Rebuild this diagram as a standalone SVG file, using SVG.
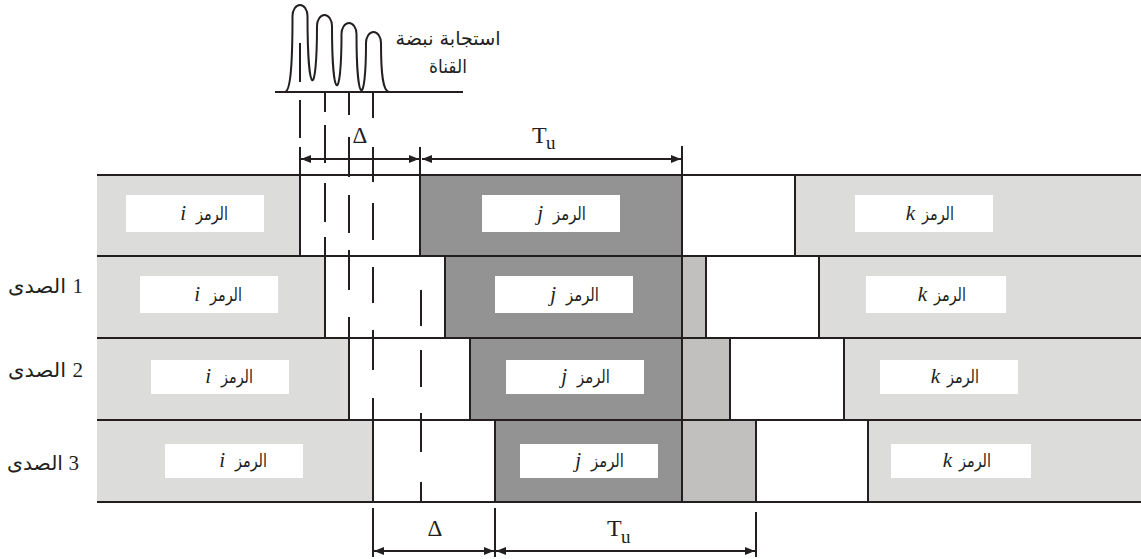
<svg xmlns="http://www.w3.org/2000/svg" width="1141" height="559" viewBox="0 0 1141 559">
<defs>
<style>
.lg{fill:#dcdcda}
.dg{fill:#939393}
.mg{fill:#c1c0be}
.wh{fill:#ffffff}
.ln{stroke:#231f20;stroke-width:2;fill:none}
.ar{font-family:"DejaVu Sans",sans-serif;font-size:18px;fill:#231f20}
.lt{font-family:"Liberation Serif",serif;font-style:italic;font-size:21px;fill:#231f20}
.sy{font-family:"Liberation Serif",serif;font-size:23px;fill:#231f20}
.num{font-family:"Liberation Serif",serif;font-size:21px;fill:#231f20}
.rl{font-family:"DejaVu Sans",sans-serif;font-size:20px;fill:#231f20}
</style>
<marker id="ah" viewBox="0 0 10 8" refX="10" refY="4" markerWidth="10" markerHeight="8" markerUnits="userSpaceOnUse" orient="auto-start-reverse">
<path d="M0,0 L10,4 L0,8 z" fill="#231f20"/>
</marker>
</defs>
<rect width="1141" height="559" fill="#ffffff"/>

<g id="row0">
<rect class="lg" x="97" y="175" width="203" height="81"/>
<rect class="wh" x="300" y="175" width="120" height="81"/>
<rect class="dg" x="420" y="175" width="262" height="81"/>
<rect class="wh" x="682" y="175" width="113" height="81"/>
<rect class="lg" x="795" y="175" width="346" height="81"/>
<rect class="wh" x="126" y="195" width="138" height="37"/>
<rect class="wh" x="482" y="195" width="138" height="37"/>
<rect class="wh" x="855" y="195" width="138" height="37"/>
<text class="lt" x="186" y="220" text-anchor="end">i</text><text class="ar" x="196" y="220" textLength="32" lengthAdjust="spacingAndGlyphs">الرمز</text>
<text class="lt" x="543" y="220" text-anchor="end">j</text><text class="ar" x="553" y="220" textLength="33" lengthAdjust="spacingAndGlyphs">الرمز</text>
<text class="lt" x="915" y="220" text-anchor="end">k</text><text class="ar" x="922" y="220" textLength="32" lengthAdjust="spacingAndGlyphs">الرمز</text>
</g>

<g id="row1">
<rect class="lg" x="97" y="256" width="228" height="82"/>
<rect class="wh" x="325" y="256" width="120" height="82"/>
<rect class="dg" x="445" y="256" width="237" height="82"/>
<rect class="mg" x="682" y="256" width="24" height="82"/>
<rect class="wh" x="706" y="256" width="113" height="82"/>
<rect class="lg" x="819" y="256" width="322" height="82"/>
<rect class="wh" x="140" y="276" width="138" height="37"/>
<rect class="wh" x="495" y="276" width="138" height="37"/>
<rect class="wh" x="866" y="276" width="140" height="37"/>
<text class="lt" x="200" y="301" text-anchor="end">i</text><text class="ar" x="210" y="301" textLength="32" lengthAdjust="spacingAndGlyphs">الرمز</text>
<text class="lt" x="556" y="301" text-anchor="end">j</text><text class="ar" x="566" y="301" textLength="33" lengthAdjust="spacingAndGlyphs">الرمز</text>
<text class="lt" x="927" y="301" text-anchor="end">k</text><text class="ar" x="934" y="301" textLength="32" lengthAdjust="spacingAndGlyphs">الرمز</text>
</g>

<g id="row2">
<rect class="lg" x="97" y="338" width="252" height="82"/>
<rect class="wh" x="349" y="338" width="121" height="82"/>
<rect class="dg" x="470" y="338" width="212" height="82"/>
<rect class="mg" x="682" y="338" width="48" height="82"/>
<rect class="wh" x="730" y="338" width="114" height="82"/>
<rect class="lg" x="844" y="338" width="297" height="82"/>
<rect class="wh" x="151" y="360" width="138" height="34"/>
<rect class="wh" x="506" y="360" width="138" height="34"/>
<rect class="wh" x="880" y="360" width="138" height="34"/>
<text class="lt" x="211" y="383" text-anchor="end">i</text><text class="ar" x="221" y="383" textLength="32" lengthAdjust="spacingAndGlyphs">الرمز</text>
<text class="lt" x="567" y="383" text-anchor="end">j</text><text class="ar" x="577" y="383" textLength="33" lengthAdjust="spacingAndGlyphs">الرمز</text>
<text class="lt" x="940" y="383" text-anchor="end">k</text><text class="ar" x="947" y="383" textLength="32" lengthAdjust="spacingAndGlyphs">الرمز</text>
</g>

<g id="row3">
<rect class="lg" x="97" y="420" width="276" height="82"/>
<rect class="wh" x="373" y="420" width="122" height="82"/>
<rect class="dg" x="495" y="420" width="187" height="82"/>
<rect class="mg" x="682" y="420" width="74" height="82"/>
<rect class="wh" x="756" y="420" width="112" height="82"/>
<rect class="lg" x="868" y="420" width="273" height="82"/>
<rect class="wh" x="165" y="444" width="138" height="34"/>
<rect class="wh" x="520" y="444" width="138" height="34"/>
<rect class="wh" x="891" y="444" width="140" height="34"/>
<text class="lt" x="225" y="467" text-anchor="end">i</text><text class="ar" x="235" y="467" textLength="32" lengthAdjust="spacingAndGlyphs">الرمز</text>
<text class="lt" x="581" y="467" text-anchor="end">j</text><text class="ar" x="591" y="467" textLength="33" lengthAdjust="spacingAndGlyphs">الرمز</text>
<text class="lt" x="952" y="467" text-anchor="end">k</text><text class="ar" x="959" y="467" textLength="32" lengthAdjust="spacingAndGlyphs">الرمز</text>
</g>

<g id="grid">
<path class="ln" d="M97,175 H1141 M97,256 H1141 M97,338 H1141 M97,420 H1141 M97,502 H1141"/>
<path class="ln" d="M300,147 V256 M420,147 V256 M682,146 V502 M795,175 V256
M325,256 V338 M445,256 V338 M706,256 V338 M819,256 V338
M349,338 V420 M470,338 V420 M730,338 V420 M844,338 V420
M373,420 V502 M495,420 V502 M756,420 V502 M868,420 V502"/>
</g>

<g id="dashes">
<path class="ln" d="M300,43 V82 M300,100 V138
M325,92 V112 M325,125 V163 M325,183 V222 M325,237 V256
M349,92 V115 M349,137 V177 M349,195 V233 M349,250 V290 M349,317 V338
M373,92 V118 M373,147 V182 M373,203 V240 M373,267 V303 M373,330 V370 M373,398 V420
M421,290 V326 M421,350 V387 M421,413 V452 M421,482 V502"/>
</g>

<g id="pulse">
<path class="ln" d="M275,92 H463"/>
<path class="ln" d="M285,92 C290,91 292.5,70 292.5,16 A7.5,11 0 0 1 307.5,16 C307.5,100 317,100 317,26 A7.5,11 0 0 1 332,26 C332,103.7 341.5,103.7 341.5,34 A7.5,11 0 0 1 356.5,34 C356.5,107.5 366,107.5 366,43 A7.5,11 0 0 1 381,43 C381,75 383,91 389,92"/>
<text class="ar" x="448" y="45" text-anchor="middle" textLength="105" lengthAdjust="spacingAndGlyphs" style="font-size:19px">استجابة نبضة</text>
<text class="ar" x="448" y="73" text-anchor="middle" textLength="38" lengthAdjust="spacingAndGlyphs" style="font-size:19px">القناة</text>
</g>

<g id="labels">
<text class="rl" x="66" y="293" text-anchor="end" textLength="58" lengthAdjust="spacingAndGlyphs">الصدى</text><text class="num" x="83" y="293" text-anchor="end">1</text>
<text class="rl" x="66" y="377" text-anchor="end" textLength="58" lengthAdjust="spacingAndGlyphs">الصدى</text><text class="num" x="83" y="377" text-anchor="end">2</text>
<text class="rl" x="63" y="470" text-anchor="end" textLength="56" lengthAdjust="spacingAndGlyphs">الصدى</text><text class="num" x="79" y="470" text-anchor="end">3</text>
</g>

<g id="connectors">
<line class="ln" x1="301" y1="159" x2="419" y2="159" marker-start="url(#ah)" marker-end="url(#ah)"/>
<line class="ln" x1="422" y1="159" x2="681" y2="159" marker-start="url(#ah)" marker-end="url(#ah)"/>
<path class="ln" d="M373,508 V557 M495,508 V557 M756,512 V557"/>
<line class="ln" x1="374" y1="551" x2="494" y2="551" marker-start="url(#ah)" marker-end="url(#ah)"/>
<line class="ln" x1="496" y1="551" x2="755" y2="551" marker-start="url(#ah)" marker-end="url(#ah)"/>
</g>

<g id="symbols">
<text class="sy" x="360" y="143" text-anchor="middle">Δ</text>
<text class="sy" x="532" y="143" style="font-size:24px">T</text><text class="sy" x="546" y="149" style="font-size:19px">u</text>
<text class="sy" x="435" y="536" text-anchor="middle">Δ</text>
<text class="sy" x="607" y="536" style="font-size:24px">T</text><text class="sy" x="621" y="543" style="font-size:19px">u</text>
</g>
</svg>
